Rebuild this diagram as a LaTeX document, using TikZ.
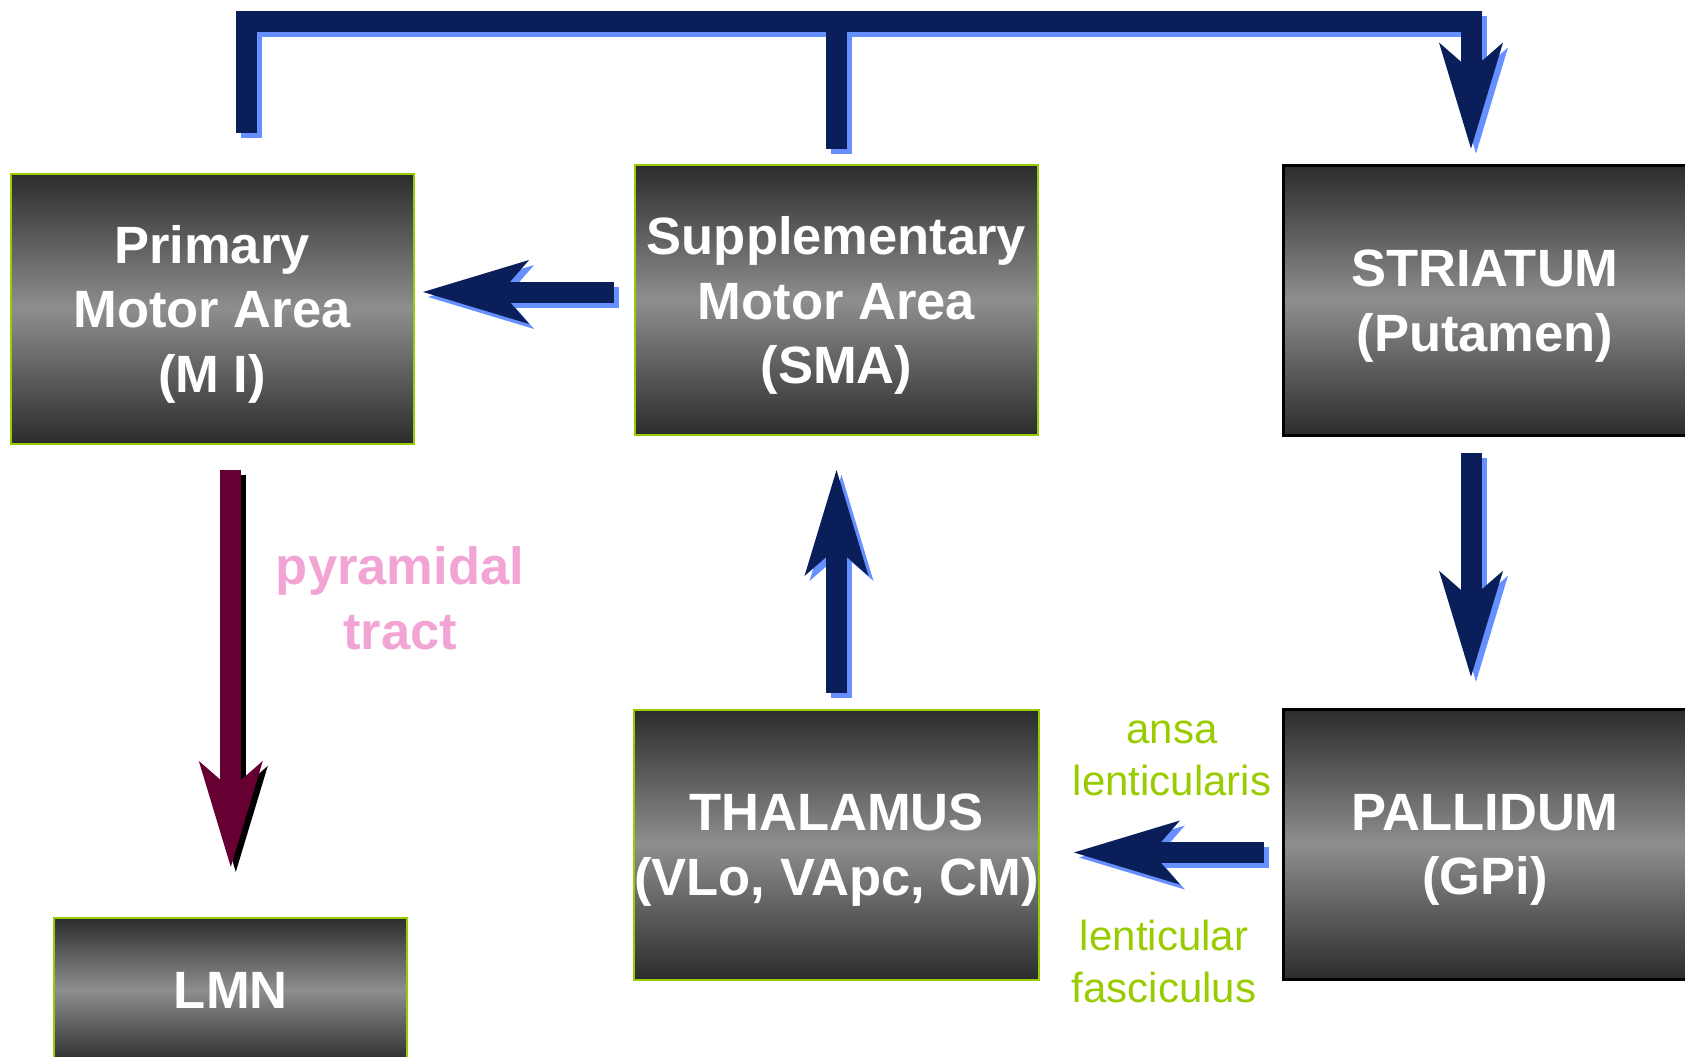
\documentclass[tikz,border=0pt]{standalone}
\usepackage{fontspec}
\setmainfont{Liberation Sans}
\usetikzlibrary{arrows.meta}
\definecolor{navyflow}{RGB}{10,30,90}
\definecolor{skyshadow}{RGB}{102,144,255}
\definecolor{limegreen}{RGB}{153,204,0}
\definecolor{tractred}{RGB}{102,0,51}
\definecolor{tractpink}{RGB}{242,164,212}
\definecolor{boxdark}{RGB}{44,44,44}
\definecolor{boxlight}{RGB}{142,142,142}
\begin{document}
\begin{tikzpicture}[x=0.5pt,y=-0.5pt,
    areabox/.style={rectangle,minimum width=201.5pt,minimum height=135pt,inner sep=0pt,outer sep=0pt,
      top color=boxdark,bottom color=boxdark,middle color=boxlight,draw=limegreen,line width=1pt,
      text=white,align=center,text depth=-2pt,font=\bfseries\fontsize{26.25}{32.25}\selectfont},
    nucbox/.style={areabox,draw=black,line width=1.4pt},
    tractnote/.style={text=tractpink,align=center,font=\bfseries\fontsize{26.25}{32.5}\selectfont},
    fibrenote/.style={text=limegreen,align=center,font=\fontsize{21}{26}\selectfont},
    flowbar/.style={draw=navyflow,line width=10.5pt},
    flow/.style={flowbar,-{Stealth[length=53pt,width=32pt,inset=14pt,line width=0pt]}},
    flowsh/.style={draw=skyshadow,transform canvas={shift={(5,5)}}},
    tractflow/.style={flow,draw=tractred},
    tractsh/.style={draw=black,transform canvas={shift={(5,5)}}}]
      \useasboundingbox (0,0) rectangle (1685,1056);
      \clip (0,0) rectangle (1685,1056);
      \node[areabox] (mi) at (212,308.5) {Primary\\Motor Area\\(M I)};
      \node[areabox] (sma) at (836.5,300) {Supplementary\\Motor Area\\(SMA)};
      \node[nucbox] (striatum) at (1485,300.5) {STRIATUM\\(Putamen)};
      \node[areabox] (thal) at (836.5,844.5) {THALAMUS\\(VLo, VApc, CM)};
      \node[nucbox] (pallidum) at (1485,844.5) {PALLIDUM\\(GPi)};
      \node[areabox,minimum width=176.5pt,minimum height=72.5pt] (lmn) at (230.8,990) {LMN};
      \node[tractnote] (pyr) at (400,598) {pyramidal\\tract};
      \node[fibrenote] (ansa) at (1172,758) {ansa\\lenticularis};
      \node[fibrenote] (lentic) at (1164,961) {lenticular\\fasciculus};
      \coordinate (bar) at (0,21);
      \coordinate (mitap) at ([xshift=17pt,yshift=20.5pt]mi.north);
      \coordinate (smatap) at ([yshift=8pt]sma.north);
      \coordinate (strtap) at ([xshift=-7pt,yshift=8.5pt]striatum.north);
      \draw[flow,flowsh] (mitap) |- (bar -| strtap) -- (strtap);
      \draw[flowbar,flowsh] (smatap) -- (smatap |- bar);
      \draw[flow,flowsh,shorten <=10.5pt,shorten >=4.8pt] ([yshift=4pt]sma.west) -- ([yshift=4pt]sma.west -| mi.east);
      \draw[flow,flowsh,shorten <=8.4pt,shorten >=17.5pt] (thal.north) -- (sma.south);
      \draw[flow,flowsh,shorten <=8.9pt,shorten >=16.4pt] ([xshift=-7pt]striatum.south) -- ([xshift=-7pt]pallidum.north);
      \draw[flow,flowsh,shorten <=9.6pt,shorten >=17.6pt] ([yshift=-4pt]pallidum.west) -- ([yshift=-4pt]pallidum.west -| thal.east);
      \draw[flow] (mitap) |- (bar -| strtap) -- (strtap);
      \draw[flowbar] (smatap) -- (smatap |- bar);
      \draw[flow,shorten <=10.5pt,shorten >=4.8pt] ([yshift=4pt]sma.west) -- ([yshift=4pt]sma.west -| mi.east);
      \draw[flow,shorten <=8.4pt,shorten >=17.5pt] (thal.north) -- (sma.south);
      \draw[flow,shorten <=8.9pt,shorten >=16.4pt] ([xshift=-7pt]striatum.south) -- ([xshift=-7pt]pallidum.north);
      \draw[flow,shorten <=9.6pt,shorten >=17.6pt] ([yshift=-4pt]pallidum.west) -- ([yshift=-4pt]pallidum.west -| thal.east);
      \draw[tractflow,tractsh,shorten <=13pt,shorten >=25.3pt] (mi.south -| lmn.north) -- (lmn.north);
      \draw[tractflow,shorten <=13pt,shorten >=25.3pt] (mi.south -| lmn.north) -- (lmn.north);
\end{tikzpicture}
\end{document}
